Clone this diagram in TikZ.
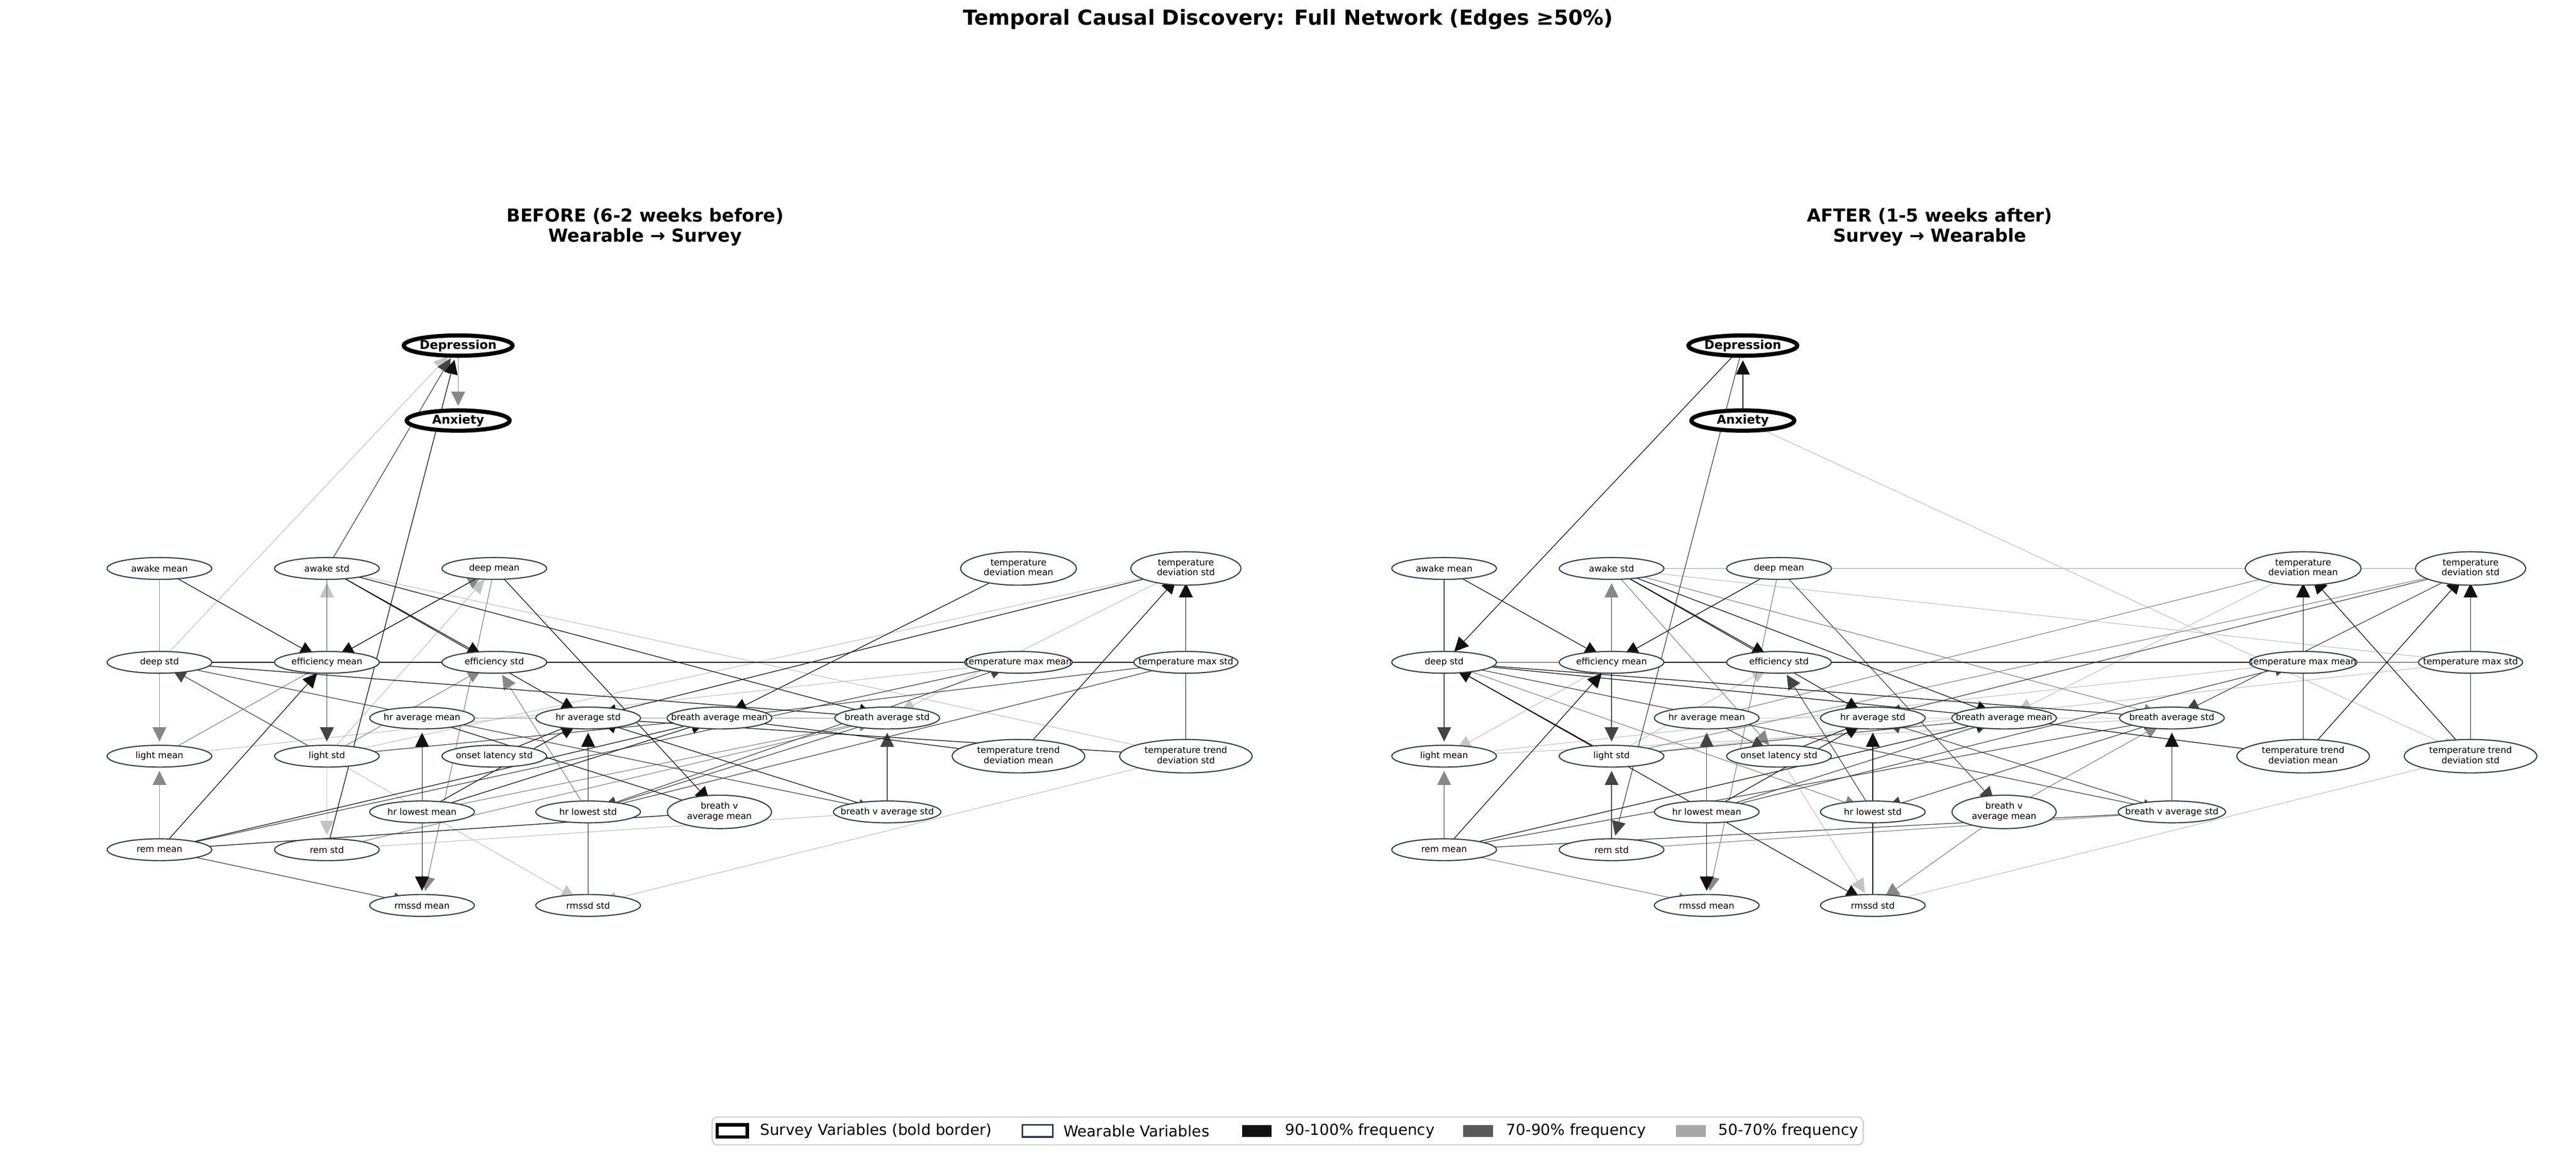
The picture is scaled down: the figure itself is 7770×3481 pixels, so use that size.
\documentclass[tikz,border=0pt]{standalone}
\usepackage{fontspec}
\setmainfont{DejaVu Sans}
\usetikzlibrary{shapes.geometric,arrows.meta}
\pgfdeclarelayer{edges}
\pgfsetlayers{edges,main}
\definecolor{cK}{HTML}{111111}
\definecolor{cD}{HTML}{444444}
\definecolor{cG}{HTML}{888888}
\definecolor{cL}{HTML}{C4C4C4}
\definecolor{wbord}{HTML}{2C3E50}
\definecolor{legbord}{HTML}{CCCCCC}
\definecolor{lgA}{HTML}{111111}
\definecolor{lgB}{HTML}{5A5A5A}
\definecolor{lgC}{HTML}{A8A8A8}
\newcommand{\zw}[1]{\makebox[0pt]{#1}}
\newcommand{\zwt}[2]{\makebox[0pt]{\begin{tabular}{@{}c@{}}#1\\#2\end{tabular}}}
\newcommand{\E}[3]{\draw[ed,#1] (#2.center) -- (#3.center);}
\tikzset{
  wn/.style={ellipse, draw=wbord, line width=0.8pt, fill=white, minimum width=75.8pt,
    minimum height=15.8pt, inner sep=0pt, font=\fontsize{6.45}{7.4}\selectfont},
  wt/.style={wn, minimum height=24.2pt},
  sn/.style={ellipse, draw=black, line width=3pt, fill=white, minimum width=74.5pt,
    minimum height=14.7pt, inner sep=0pt, font=\fontsize{8.8}{10}\selectfont\bfseries},
  ed/.style={line width=0.5pt, -{Triangle[length=10.3pt,width=10pt]}, shorten >=10.6pt},
  lgtext/.style={anchor=west, inner sep=0pt, font=\fontsize{11}{13}\selectfont},
  ptitle/.style={align=center, font=\fontsize{13}{14.5}\selectfont\bfseries},
}
\newcommand{\panel}[1]{%
  \node[sn] (#1dep) at (1382,1042) {Depression};
  \node[sn] (#1anx) at (1382,1268) {Anxiety};
  \node[wn] (#1awm) at (481,1714) {\zw{awake mean}};
  \node[wn] (#1aws) at (986,1714) {\zw{awake std}};
  \node[wn] (#1dpm) at (1491,1714) {\zw{deep mean}};
  \node[wt, minimum width=83.8pt] (#1tdm) at (3072,1714) {\zwt{temperature}{deviation mean}};
  \node[wt, minimum width=79.7pt] (#1tds) at (3577,1714) {\zwt{temperature}{deviation std}};
  \node[wn] (#1dps) at (481,1997) {\zw{deep std}};
  \node[wn] (#1efm) at (986,1997) {\zw{efficiency mean}};
  \node[wn] (#1efs) at (1491,1997) {\zw{efficiency std}};
  \node[wn, minimum width=77.8pt] (#1tmm) at (3072,1997) {\zw{temperature max mean}};
  \node[wn, minimum width=75.4pt] (#1tms) at (3577,1997) {\zw{temperature max std}};
  \node[wn] (#1ham) at (1273,2165) {\zw{hr average mean}};
  \node[wn] (#1has) at (1774,2165) {\zw{hr average std}};
  \node[wn] (#1bam) at (2170,2165) {\zw{breath average mean}};
  \node[wn] (#1bas) at (2676,2165) {\zw{breath average std}};
  \node[wn] (#1lim) at (481,2280) {\zw{light mean}};
  \node[wn] (#1lis) at (986,2280) {\zw{light std}};
  \node[wn] (#1ols) at (1491,2280) {\zw{onset latency std}};
  \node[wt, minimum width=96pt] (#1ttm) at (3072,2280) {\zwt{temperature trend}{deviation mean}};
  \node[wt, minimum width=96pt] (#1tts) at (3577,2280) {\zwt{temperature trend}{deviation std}};
  \node[wn] (#1hlm) at (1273,2448) {\zw{hr lowest mean}};
  \node[wn] (#1hls) at (1774,2448) {\zw{hr lowest std}};
  \node[wt, minimum width=75.4pt] (#1bvm) at (2170,2448) {\zwt{breath v}{average mean}};
  \node[wn, minimum width=77.8pt] (#1bvs) at (2676,2448) {\zw{breath v average std}};
  \node[wn] (#1rem) at (481,2562) {\zw{rem mean}};
  \node[wn] (#1res) at (986,2562) {\zw{rem std}};
  \node[wn] (#1rsm) at (1273,2730) {\zw{rmssd mean}};
  \node[wn] (#1rss) at (1774,2730) {\zw{rmssd std}};
}
\begin{document}
\begin{tikzpicture}[x=0.24pt, y=-0.24pt]
\useasboundingbox (0,0) rectangle (7770,3481);
\node[font=\fontsize{15}{18}\selectfont\bfseries] (title) at (3885,59)
  {Temporal Causal Discovery: Full Network (Edges ≥50\%)};
\node[ptitle] (titleL) at (1946,684) {BEFORE (6-2 weeks before)\\Wearable → Survey};
\node[ptitle] (titleR) at (5821,684) {AFTER (1-5 weeks after)\\Survey → Wearable};
\panel{L}
\begin{scope}[xshift=930pt]
\panel{R}
\end{scope}
\begin{pgfonlayer}{edges}
% ---------- LEFT panel ----------
\E{cL}{Ldps}{Ldep}\E{cL}{Lefm}{Laws}\E{cL}{Llis}{Lres}\E{cL}{Llis}{Ldpm}
\E{cL}{Laws}{Ltts}\E{cL}{Llim}{Ltmm}\E{cL}{Llis}{Ltds}\E{cL}{Llis}{Lrss}
\E{cL}{Lres}{Lbvs}\E{cL}{Ltds}{Lbas}\E{cL}{Ltts}{Lrss}
\E{cG}{Ldep}{Lanx}\E{cG}{Lawm}{Llim}\E{cG}{Llim}{Ldpm}\E{cG}{Lrem}{Llim}
\E{cG}{Llis}{Lefs}\E{cG}{Ldpm}{Lrsm}\E{cG}{Lhls}{Lefs}\E{cG}{Lham}{Lbas}
\E{cG}{Lres}{Lbas}\E{cG}{Lhlm}{Lbas}
\E{cD}{Laws}{Ldep}\E{cD}{Laws}{Llis}\E{cD}{Ldps}{Lbvs}\E{cD}{Llis}{Ldps}
\E{cD}{Llis}{Lbam}\E{cD}{Lrem}{Lrsm}\E{cD}{Lrem}{Ltmm}\E{cD}{Lbas}{Lhls}
\E{cD}{Ltms}{Lhls}\E{cD}{Lhls}{Ltmm}\E{cD}{Ltms}{Lbam}\E{cD}{Lbvs}{Lbas}
\E{cK}{Lres}{Ldep}\E{cK}{Lawm}{Lefm}\E{cK}{Ldpm}{Lefm}\E{cK}{Laws}{Lefs}
\E{cK}{Laws}{Lhas}\E{cK}{Laws}{Lbas}\E{cK}{Ldps}{Ltms}\E{cK}{Ldps}{Lbas}
\E{cK}{Lrem}{Lefm}\E{cK}{Ldpm}{Lbvm}\E{cK}{Lham}{Lbvm}\E{cK}{Lols}{Lhas}
\E{cK}{Lhlm}{Lhas}\E{cK}{Lhlm}{Lham}\E{cK}{Lhlm}{Lrsm}\E{cK}{Lrem}{Lbam}
\E{cK}{Lrem}{Lbvm}\E{cK}{Lhlm}{Lbam}\E{cK}{Lrss}{Lhas}\E{cK}{Lbvs}{Lhas}
\E{cK}{Ltds}{Lhas}\E{cK}{Ltdm}{Lbam}\E{cK}{Lttm}{Ltds}\E{cK}{Ltts}{Ltds}
\E{cK}{Lhas}{Ltts}\E{cK}{Lbam}{Lttm}
% ---------- RIGHT panel ----------
\E{cL}{Ranx}{Rtts}\E{cL}{Raws}{Rtds}\E{cL}{Raws}{Rtms}\E{cL}{Rlis}{Refs}
\E{cL}{Rdpm}{Rlim}\E{cL}{Rlim}{Rbas}\E{cL}{Rlim}{Rtmm}\E{cL}{Rlis}{Rtms}
\E{cL}{Rham}{Rbas}\E{cL}{Rols}{Rrss}\E{cL}{Rtdm}{Rbam}\E{cL}{Rtts}{Rrss}
\E{cG}{Refm}{Raws}\E{cG}{Rrem}{Rlim}\E{cG}{Rdps}{Rtms}\E{cG}{Raws}{Rbas}
\E{cG}{Raws}{Rols}\E{cG}{Rdpm}{Rrsm}\E{cG}{Rrem}{Rrsm}\E{cG}{Rdps}{Rhls}
\E{cG}{Rlis}{Rtds}\E{cG}{Rham}{Rtdm}\E{cG}{Rbvm}{Rrss}\E{cG}{Rres}{Rbvs}
\E{cG}{Rbvm}{Rbas}
\E{cD}{Rdep}{Rres}\E{cD}{Rawm}{Rlim}\E{cD}{Refm}{Rlis}\E{cD}{Rres}{Rlis}
\E{cD}{Rhlm}{Rham}\E{cD}{Rdps}{Rbvs}\E{cD}{Rlis}{Rbam}\E{cD}{Rham}{Rols}
\E{cD}{Rhls}{Refs}\E{cD}{Rdpm}{Rbvm}\E{cD}{Rrem}{Rbas}\E{cD}{Rhlm}{Rbam}
\E{cD}{Rbas}{Rhls}\E{cD}{Rrem}{Rbvs}\E{cD}{Rhlm}{Rtmm}\E{cD}{Rtds}{Rbas}
\E{cD}{Rtds}{Rhas}\E{cD}{Rbvs}{Rhas}
\E{cK}{Rdep}{Rdps}\E{cK}{Ranx}{Rdep}\E{cK}{Rawm}{Refm}\E{cK}{Rrem}{Refm}
\E{cK}{Rdpm}{Refm}\E{cK}{Rlis}{Rdps}\E{cK}{Rdps}{Rrss}\E{cK}{Refm}{Rtmm}
\E{cK}{Raws}{Refs}\E{cK}{Raws}{Rhas}\E{cK}{Raws}{Rbam}\E{cK}{Rhlm}{Rrsm}
\E{cK}{Rdps}{Rbas}\E{cK}{Rdps}{Rbam}\E{cK}{Rols}{Rhas}\E{cK}{Rhlm}{Rhas}
\E{cK}{Rrem}{Rbam}\E{cK}{Rrss}{Rhas}\E{cK}{Rttm}{Rtdm}\E{cK}{Rtts}{Rtds}
\E{cK}{Rttm}{Rtds}\E{cK}{Rtts}{Rtdm}\E{cK}{Rbam}{Rttm}\E{cK}{Rbvs}{Rbas}
\end{pgfonlayer}
% ---------- legend ----------
\draw[rounded corners=4pt, draw=legbord, line width=0.8pt, fill=white] (2148,3368) rectangle (5620,3452);
\draw[line width=2.5pt, draw=black, fill=white] (2163,3392) rectangle (2254,3428);
\node[lgtext] (lg1) at (2292,3410) {Survey Variables (bold border)};
\draw[line width=1.2pt, draw=wbord, fill=white] (3084,3392) rectangle (3176,3428);
\node[lgtext] (lg2) at (3207,3410) {Wearable Variables};
\fill[lgA] (3746,3392) rectangle (3836,3428);
\node[lgtext] (lg3) at (3876,3410) {90-100\% frequency};
\fill[lgB] (4413,3392) rectangle (4503,3428);
\node[lgtext] (lg4) at (4543,3410) {70-90\% frequency};
\fill[lgC] (5055,3392) rectangle (5145,3428);
\node[lgtext] (lg5) at (5183,3410) {50-70\% frequency};
\end{tikzpicture}
\end{document}
